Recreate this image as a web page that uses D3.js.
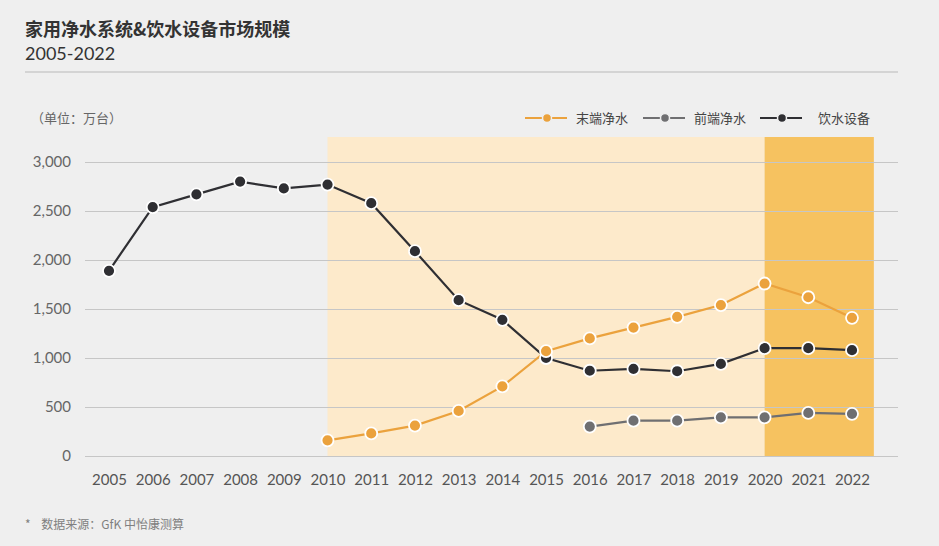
<!DOCTYPE html>
<html><head><meta charset="utf-8">
<script src="https://cdn.jsdelivr.net/npm/d3@7"></script>
<style>
html,body{margin:0;padding:0;background:#efefef;}
svg{display:block;font-family:Lato,"Noto Sans CJK SC",sans-serif;}
</style></head>
<body><svg id="c" width="939" height="546"></svg>
<script>
const years = [2005,2006,2007,2008,2009,2010,2011,2012,2013,2014,2015,2016,2017,2018,2019,2020,2021,2022];
const seriesNames = ["末端净水","前端净水","饮水设备"];
const endPurifier = [null,null,null,null,null,160,230,310,460,710,1070,1200,1310,1420,1540,1760,1620,1410];
const frontPurifier = [null,null,null,null,null,null,null,null,null,null,null,300,360,360,395,395,440,430];
const drinkingDevice = [1890,2540,2670,2800,2730,2770,2580,2090,1590,1390,1000,870,890,865,940,1100,1100,1080];
const yTicks = [0,500,1000,1500,2000,2500,3000];
const colors = ["#eba23d","#6f6f71","#2f2f33"];

const svg = d3.select("#c");
const x = d3.scalePoint().domain(years).range([109,852]);
const y = d3.scaleLinear().domain([0,3000]).range([456,162]);
const step = x.step();

// title
svg.append("text").attr("x",25).attr("y",36).attr("font-size",18).attr("font-weight","bold").attr("fill","#333")
  .attr("font-family","'Noto Sans CJK SC',sans-serif").text("家用净水系统&饮水设备市场规模");
svg.append("text").attr("x",25).attr("y",60).attr("font-size",18).attr("fill","#333").text("2005-2022");
svg.append("line").attr("x1",25).attr("x2",898).attr("y1",72).attr("y2",72).attr("stroke","#b9b9b9").attr("stroke-width",1.2);

// bands
svg.append("rect").attr("x",x(2010)).attr("y",137).attr("width",x(2020)-x(2010)).attr("height",y(0)-137).attr("fill","#fdeacb");
svg.append("rect").attr("x",x(2020)).attr("y",137).attr("width",x(2022)-x(2020)+step/2).attr("height",y(0)-137).attr("fill","#f6c260");

// grid + y axis
const yAxis = d3.axisLeft(y).tickValues(yTicks).tickSize(-(898-85)).tickPadding(14).tickFormat(d3.format(","));
const gy = svg.append("g").attr("transform","translate(85,0)").call(yAxis);
gy.select(".domain").remove();
gy.selectAll(".tick line").attr("stroke","#c6c6c6").attr("stroke-width",1.2);
gy.selectAll(".tick text").attr("fill","#666").attr("font-size",15).attr("font-family","Lato,sans-serif");

// x axis
const xAxis = d3.axisBottom(x).tickSize(0).tickPadding(18);
const gx = svg.append("g").attr("transform",`translate(0,${y(0)})`).call(xAxis);
gx.select(".domain").remove();
gx.selectAll(".tick text").attr("fill","#555").attr("font-size",15).attr("font-family","Lato,sans-serif");

svg.append("text").attr("x",31).attr("y",123).attr("font-size",13).attr("fill","#666")
  .attr("font-family","'Noto Sans CJK SC',sans-serif").text("（单位：万台）");

// series
const allSeries = [endPurifier, frontPurifier, drinkingDevice];
const line = d3.line().defined(d=>d.v!=null).x(d=>x(d.year)).y(d=>y(d.v));
const order = [2,1,0];
order.forEach(i=>{
  const data = years.map((yr,j)=>({year:yr,v:allSeries[i][j]}));
  svg.append("path").datum(data).attr("d",line).attr("fill","none").attr("stroke",colors[i]).attr("stroke-width",2.2);
});
order.forEach(i=>{
  const data = years.map((yr,j)=>({year:yr,v:allSeries[i][j]})).filter(d=>d.v!=null);
  svg.append("g").selectAll("circle").data(data).join("circle")
    .attr("cx",d=>x(d.year)).attr("cy",d=>y(d.v)).attr("r",6)
    .attr("fill",colors[i]).attr("stroke","#fff").attr("stroke-width",1.8);
});

// legend
const legendX = [525,643,760];
const legendTextX = [576,694,818];
seriesNames.forEach((n,i)=>{
  const g = svg.append("g");
  g.append("line").attr("x1",legendX[i]).attr("x2",legendX[i]+42).attr("y1",118).attr("y2",118).attr("stroke",colors[i]).attr("stroke-width",2);
  g.append("circle").attr("cx",legendX[i]+22).attr("cy",118).attr("r",4.5).attr("fill",colors[i]).attr("stroke","#efefef").attr("stroke-width",1.5);
  g.append("text").attr("x",legendTextX[i]).attr("y",123).attr("font-size",13).attr("fill","#444")
    .attr("font-family","'Noto Sans CJK SC',sans-serif").text(n);
});

// footer
svg.append("text").attr("x",25).attr("y",529).attr("font-size",12).attr("fill","#808080")
  .attr("font-family","'Noto Sans CJK SC',sans-serif").attr("xml:space","preserve").text("*    数据来源：GfK 中怡康测算");
</script></body></html>
